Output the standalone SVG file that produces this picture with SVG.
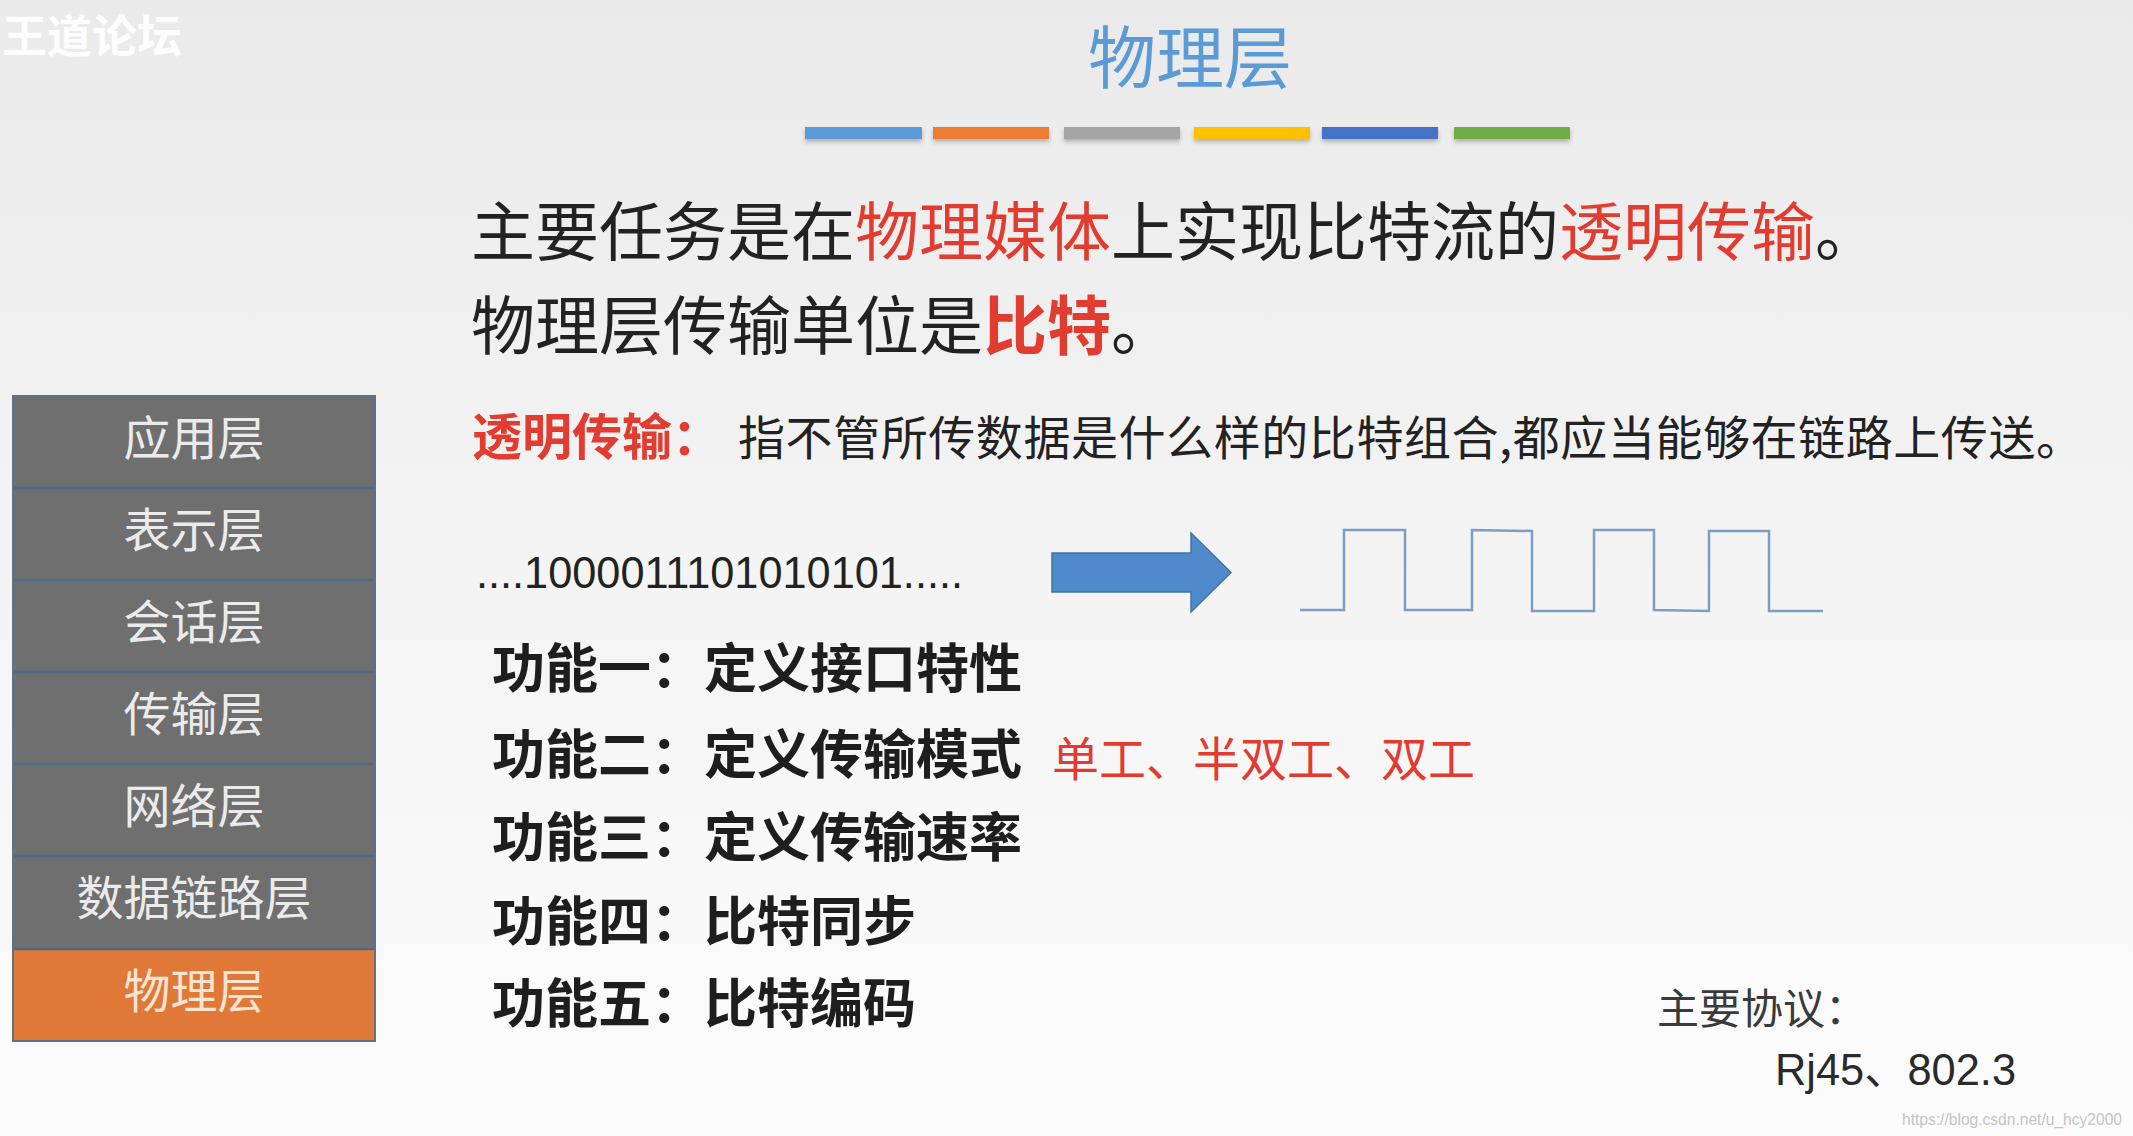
<svg xmlns="http://www.w3.org/2000/svg" width="2133" height="1136" viewBox="0 0 2133 1136">
  <defs>
    <linearGradient id="bg" x1="0" y1="0" x2="0" y2="1">
      <stop offset="0" stop-color="#EAEAEA"/>
      <stop offset="0.45" stop-color="#F3F3F3"/>
      <stop offset="1" stop-color="#FCFCFC"/>
    </linearGradient>
    <filter id="sh" x="-10%" y="-50%" width="120%" height="250%">
      <feDropShadow dx="0" dy="3" stdDeviation="2" flood-color="#000" flood-opacity="0.25"/>
    </filter>
    <style>
      .cjk { font-family: "Noto Sans CJK SC", "Noto Sans", sans-serif; }
      .lat { font-family: "Liberation Sans", "Noto Sans CJK SC", sans-serif; }
      .dark { fill: #222222; }
      .red { fill: #E23B30; }
      .layer { fill: #6F6F6F; }
      .layer-txt { font-family: "Noto Sans CJK SC", sans-serif; font-size: 47px; fill: #EBEBEB; text-anchor: middle; }
      .sep { stroke: #4D6A89; stroke-width: 2.5; }
      .func { font-family: "Noto Sans CJK SC", sans-serif; font-size: 53px; font-weight: bold; fill: #1E1E1E; }
    </style>
  </defs>

  <rect x="0" y="0" width="2133" height="1136" fill="url(#bg)"/>

  <!-- watermark -->
  <text x="2" y="53" class="cjk" font-size="45" font-weight="bold" fill="#FFFFFF" fill-opacity="0.92">王道论坛</text>

  <!-- title -->
  <g id="title">
    <text x="1088" y="83" class="cjk" font-size="68" fill="#5B9BD5">物理层</text>
  </g>

  <!-- colour bars -->
  <g id="bars" filter="url(#sh)">
    <rect x="805" y="127" width="117" height="12" fill="#5B9BD5"/>
    <rect x="933" y="127" width="116" height="12" fill="#ED7D31"/>
    <rect x="1064" y="127" width="116" height="12" fill="#A5A5A5"/>
    <rect x="1194" y="127" width="116" height="12" fill="#FFC000"/>
    <rect x="1322" y="127" width="116" height="12" fill="#4472C4"/>
    <rect x="1454" y="127" width="116" height="12" fill="#70AD47"/>
  </g>

  <!-- main text -->
  <g id="line1">
    <text x="471" y="255" class="cjk dark" font-size="64">主要任务是在<tspan class="red">物理媒体</tspan>上实现比特流的<tspan class="red">透明传输</tspan>。</text>
  </g>
  <g id="line2">
    <text x="471" y="349" class="cjk dark" font-size="64">物理层传输单位是<tspan class="red" font-weight="bold">比特</tspan>。</text>
  </g>
  <g id="line3">
    <text x="472" y="455" class="cjk red" font-size="50" font-weight="bold">透明传输：</text>
    <text x="738" y="455" class="cjk dark" font-size="47" textLength="1345" lengthAdjust="spacing">指不管所传数据是什么样的比特组合,都应当能够在链路上传送。</text>
  </g>

  <!-- OSI layer stack -->
  <g id="layers">
    <g id="layer-app">
      <rect x="13" y="396" width="362" height="92" class="layer"/>
      <text x="194" y="455" class="layer-txt">应用层</text>
    </g>
    <g id="layer-pres">
      <rect x="13" y="488" width="362" height="92" class="layer"/>
      <text x="194" y="547" class="layer-txt">表示层</text>
    </g>
    <g id="layer-sess">
      <rect x="13" y="580" width="362" height="92" class="layer"/>
      <text x="194" y="639" class="layer-txt">会话层</text>
    </g>
    <g id="layer-trans">
      <rect x="13" y="672" width="362" height="92" class="layer"/>
      <text x="194" y="731" class="layer-txt">传输层</text>
    </g>
    <g id="layer-net">
      <rect x="13" y="764" width="362" height="92" class="layer"/>
      <text x="194" y="823" class="layer-txt">网络层</text>
    </g>
    <g id="layer-link">
      <rect x="13" y="856" width="362" height="93" class="layer"/>
      <text x="194" y="915" class="layer-txt">数据链路层</text>
    </g>
    <g id="layer-phys">
      <rect x="13" y="949" width="362" height="92" fill="#E07838"/>
      <text x="194" y="1008" class="layer-txt" style="fill:#F8E4D2">物理层</text>
    </g>
    <g id="layer-lines">
      <line x1="13" y1="488" x2="375" y2="488" class="sep"/>
      <line x1="13" y1="580" x2="375" y2="580" class="sep"/>
      <line x1="13" y1="672" x2="375" y2="672" class="sep"/>
      <line x1="13" y1="764" x2="375" y2="764" class="sep"/>
      <line x1="13" y1="856" x2="375" y2="856" class="sep"/>
      <line x1="13" y1="949" x2="375" y2="949" class="sep"/>
      <rect x="13" y="396" width="362" height="645" fill="none" stroke="#5E7186" stroke-width="2"/>
    </g>
  </g>

  <!-- bit stream -->
  <g id="bits">
    <text x="476" y="588" class="lat dark" font-size="44" textLength="487" lengthAdjust="spacingAndGlyphs">....1000011101010101.....</text>
  </g>

  <!-- arrow -->
  <g id="connectors">
    <polygon points="1052,553 1191,553 1191,533 1231,572.5 1191,612 1191,592 1052,592" fill="#4F8ACB" stroke="#4273A8" stroke-width="1.5"/>
  </g>

  <!-- square wave -->
  <g id="wave">
    <polyline points="1300,610 1344,610 1344,530 1405,530 1405,610 1472,610 1472,530 1532,531 1532,611 1594,611 1594,530 1654,530 1654,610 1709,611 1709,531 1769,531 1769,611 1823,611" fill="none" stroke="#7E9DC4" stroke-width="2.5"/>
  </g>

  <!-- functions -->
  <g id="functions">
    <text x="492" y="688" class="func">功能一：定义接口特性</text>
    <text x="492" y="774" class="func">功能二：定义传输模式</text>
    <text x="1052" y="776" class="cjk red" font-size="47">单工、半双工、双工</text>
    <text x="492" y="857" class="func">功能三：定义传输速率</text>
    <text x="492" y="941" class="func">功能四：比特同步</text>
    <text x="492" y="1023" class="func">功能五：比特编码</text>
  </g>

  <!-- protocols -->
  <g id="protocols">
    <text x="1657" y="1024" class="cjk" font-size="42" fill="#3A3A3A">主要协议：</text>
    <text x="1775" y="1085" class="lat" font-size="44" fill="#2A2A2A" textLength="241" lengthAdjust="spacingAndGlyphs">Rj45、802.3</text>
  </g>

  <text x="1902" y="1125" class="lat" font-size="16" fill="#C4C4C4" textLength="220" lengthAdjust="spacingAndGlyphs">https://blog.csdn.net/u_hcy2000</text>
</svg>
